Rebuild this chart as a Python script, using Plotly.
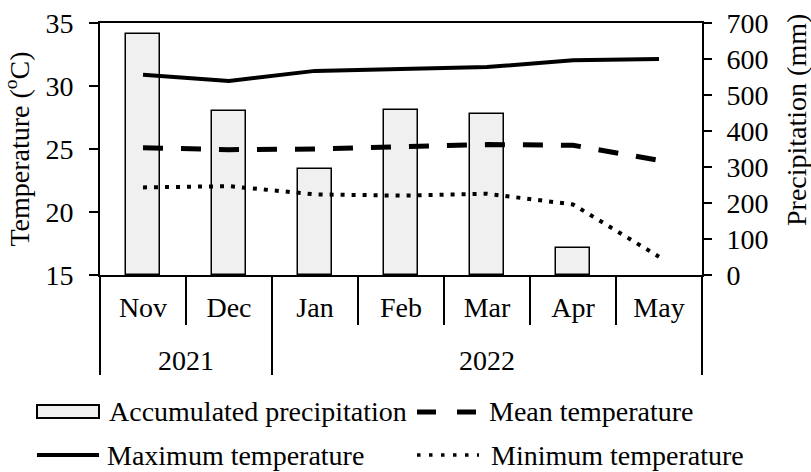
import plotly.graph_objects as go

# ---- data ----
months = ["Nov", "Dec", "Jan", "Feb", "Mar", "Apr", "May"]
years = ["2021", "2022"]
year_span = [(0, 1), (2, 6)]          # month index range for each year
precip = [670, 456, 294, 459, 447, 76, 0]
t_max = [30.9, 30.4, 31.2, 31.35, 31.5, 32.05, 32.15]
t_mean = [25.1, 24.95, 25.0, 25.2, 25.35, 25.3, 24.1]
t_min = [21.95, 22.05, 21.4, 21.3, 21.45, 20.6, 16.45]
temp_ticks = [15, 20, 25, 30, 35]
precip_ticks = [0, 100, 200, 300, 400, 500, 600, 700]

names = {
    "precip": "Accumulated precipitation",
    "mean": "Mean temperature",
    "max": "Maximum temperature",
    "min": "Minimum temperature",
}

FONT = "Liberation Serif, Times New Roman, serif"
W, H = 811, 472
L, R, T, B = 100, 702, 23, 275   # plot area in px

def px_x(p):
    return (p - L) / (R - L)

def px_y(p):
    return (B - p) / (B - T)

x = list(range(len(months)))

fig = go.Figure()
fig.add_trace(go.Bar(
    x=x, y=precip, name=names["precip"], width=0.39,
    marker=dict(color="#f0f0f0",
                line=dict(color="black",
                          width=[1.5 if v > 0 else 0 for v in precip])),
    yaxis="y", showlegend=False,
))
fig.add_trace(go.Scatter(
    x=x, y=t_max, name=names["max"], mode="lines", yaxis="y2",
    line=dict(color="black", width=4), showlegend=False,
))
fig.add_trace(go.Scatter(
    x=x, y=t_mean, name=names["mean"], mode="lines", yaxis="y2",
    line=dict(color="black", width=5, dash="20px,18px"), showlegend=False,
))
fig.add_trace(go.Scatter(
    x=x, y=t_min, name=names["min"], mode="lines", yaxis="y2",
    line=dict(color="black", width=4, dash="4px,7px"), showlegend=False,
))

n = len(months)
shapes = []
# extension of the left / right frame lines through the category table
for xp in (0, 1):
    shapes.append(dict(type="line", xref="paper", yref="paper",
                       x0=xp, x1=xp, y0=0, y1=px_y(375),
                       line=dict(color="black", width=2)))
# month and year separators
year_bounds = [s[1] for s in year_span[:-1]]
for i in range(n - 1):
    xp = (i + 1) / n
    y_end = px_y(375) if i in year_bounds else px_y(325)
    shapes.append(dict(type="line", xref="paper", yref="paper",
                       x0=xp, x1=xp, y0=0, y1=y_end,
                       line=dict(color="black", width=2)))

# custom legend symbols
r1, r2 = 412, 455
shapes.append(dict(type="rect", xref="paper", yref="paper",
                   x0=px_x(37), x1=px_x(99), y0=px_y(405), y1=px_y(418),
                   fillcolor="#f0f0f0", line=dict(color="black", width=2)))
shapes.append(dict(type="line", xref="paper", yref="paper",
                   x0=px_x(417), x1=px_x(477), y0=px_y(r1), y1=px_y(r1),
                   line=dict(color="black", width=5, dash="19px,21px")))
shapes.append(dict(type="line", xref="paper", yref="paper",
                   x0=px_x(37), x1=px_x(99), y0=px_y(r2), y1=px_y(r2),
                   line=dict(color="black", width=4)))
shapes.append(dict(type="line", xref="paper", yref="paper",
                   x0=px_x(417), x1=px_x(479), y0=px_y(r2), y1=px_y(r2),
                   line=dict(color="black", width=3.5, dash="3.5px,8.5px")))

annotations = []
for label, (a, b) in zip(years, year_span):
    annotations.append(dict(text=label, x=(a + b) / 2, xref="x",
                            y=px_y(360), yref="paper", showarrow=False,
                            font=dict(size=28, color="black", family=FONT),
                            xanchor="center", yanchor="middle"))
legend_items = [(names["precip"], 107, r1), (names["mean"], 487, r1),
                (names["max"], 105, r2), (names["min"], 489, r2)]
for txt, xp, yp in legend_items:
    annotations.append(dict(text=txt, x=px_x(xp), y=px_y(yp), xref="paper",
                            yref="paper", showarrow=False, xanchor="left",
                            yanchor="middle",
                            font=dict(size=28, color="black", family=FONT)))
annotations.append(dict(text="Precipitation (mm)", x=px_x(797), y=px_y(120),
                        xref="paper", yref="paper", showarrow=False,
                        textangle=-90, xanchor="center", yanchor="middle",
                        font=dict(size=28, color="black", family=FONT)))

fig.update_layout(
    width=W, height=H,
    margin=dict(l=L, r=W - R, t=T, b=H - B, autoexpand=False),
    paper_bgcolor="white", plot_bgcolor="white",
    font=dict(family=FONT, size=28, color="black"),
    bargap=0,
    xaxis=dict(range=[-0.5, n - 0.5], tickvals=x, ticktext=months,
               showgrid=False, zeroline=False, showline=True, mirror=True,
               linecolor="black", linewidth=2, ticks="",
               ticklabelstandoff=6, fixedrange=True),
    yaxis=dict(range=[0, 700], tickvals=precip_ticks, side="right",
               showgrid=False, zeroline=False, showline=True,
               linecolor="black", linewidth=2, ticks="outside", ticklen=8,
               tickwidth=2, tickcolor="black", ticklabelstandoff=9),
    yaxis2=dict(range=[15, 35], tickvals=temp_ticks, side="left",
                overlaying="y", showgrid=False, zeroline=False,
                showline=True, linecolor="black", linewidth=2,
                ticks="outside", ticklen=9, tickwidth=2, tickcolor="black",
                ticklabelstandoff=10,
                title=dict(text="Temperature (<sup>o</sup>C)", standoff=8,
                           font=dict(size=28, family=FONT, color="black"))),
    shapes=shapes,
    annotations=annotations,
)

fig.write_html("out.html",
               config={"displayModeBar": False},
               post_script="document.body.style.margin='0';"
                           "document.body.style.overflow='hidden';")
